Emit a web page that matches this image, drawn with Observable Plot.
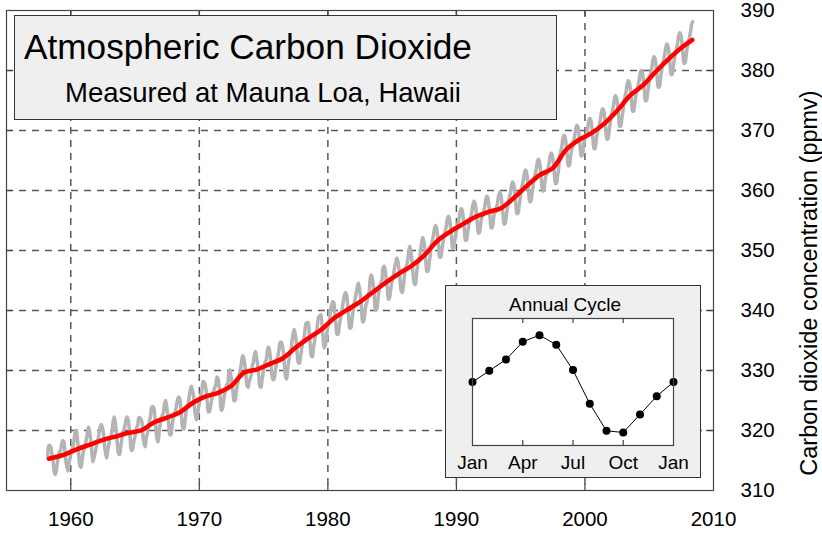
<!DOCTYPE html>
<html>
<head>
<meta charset="utf-8">
<script src="https://cdn.jsdelivr.net/npm/d3@7"></script>
<script src="https://cdn.jsdelivr.net/npm/@observablehq/plot@0.6"></script>
<style>
  body { margin: 0; background: #fff; }
  #wrap { position: relative; width: 822px; height: 536px; overflow: hidden;
          font-family: "Liberation Sans", Arial, sans-serif; color: #000; }
  #wrap svg { display: block; }
  #main { position: absolute; left: 0; top: 0; }
  #titlebox { position: absolute; left: 14px; top: 15px; width: 543px; height: 105px;
              box-sizing: border-box; background: #efefef; border: 1px solid #333; }
  .ttl { position: absolute; white-space: nowrap; line-height: 1; }
  #title { left: 24px; top: 28.5px; font-size: 35.2px; }
  #subtitle { left: 65px; top: 79px; font-size: 27.5px; }
  #insetbox { position: absolute; left: 445px; top: 285px; width: 254px; height: 191px;
              background: #efefef; border: 1px solid #333; }
  #ylabel { position: absolute; left: 810px; top: 283px; font-size: 23.5px; line-height: 1;
            white-space: nowrap; transform: translate(-50%, -50%) rotate(-90deg); }
</style>
</head>
<body>
<div id="wrap">
  <div id="main"></div>
  <div id="titlebox"></div>
  <div class="ttl" id="title">Atmospheric Carbon Dioxide</div>
  <div class="ttl" id="subtitle">Measured at Mauna Loa, Hawaii</div>
  <div id="insetbox"></div>
  <div id="ylabel">Carbon dioxide concentration (ppmv)</div>
</div>
<script>
// ---- Monthly CO2 (ppmv), grey curve ----
const co2Start = [1958 + 2 / 12, 1970, 1980, 1990, 2000]; // first month of each block
const co2_1958_1969 = [
  315.71, 317.45, 317.50, 317.10, 315.86, 314.93, 313.20, 312.66, 313.33, 314.67,
  315.62, 316.38, 316.71, 317.72, 318.29, 318.15, 316.54, 314.80, 313.84, 313.26, 314.80, 315.58,
  316.43, 316.97, 317.58, 319.02, 320.03, 319.59, 318.18, 315.91, 314.16, 313.83, 315.00, 316.19,
  316.93, 317.70, 318.54, 319.48, 320.58, 319.77, 318.57, 316.79, 314.80, 315.38, 316.10, 317.01,
  317.94, 318.56, 319.68, 320.63, 321.01, 320.55, 319.58, 317.40, 316.26, 315.42, 316.69, 317.69,
  318.74, 319.08, 319.86, 321.39, 322.25, 321.47, 319.74, 317.77, 316.21, 315.99, 317.12, 318.31,
  319.57, 320.07, 320.73, 321.77, 322.25, 321.89, 320.44, 318.70, 316.70, 316.79, 317.79, 318.71,
  319.44, 320.44, 320.89, 322.13, 322.16, 321.87, 321.39, 318.81, 317.81, 317.30, 318.87, 319.42,
  320.62, 321.59, 322.39, 323.87, 324.01, 323.75, 322.39, 320.37, 318.64, 318.10, 319.79, 321.08,
  322.07, 322.50, 323.04, 324.42, 325.00, 324.09, 322.55, 320.92, 319.31, 319.31, 320.72, 321.96,
  322.57, 323.15, 323.89, 325.02, 325.57, 325.36, 324.14, 322.03, 320.41, 320.25, 321.31, 322.84,
  324.00, 324.42, 325.64, 326.66, 327.38, 326.70, 325.89, 323.67, 322.38, 321.78, 322.85, 324.11
];
const co2_1970s = [
  325.03, 325.99, 326.87, 328.13, 328.07, 327.66, 326.35, 324.69, 323.10, 323.16, 323.98, 325.13,
  326.17, 326.68, 327.18, 327.78, 328.92, 328.57, 327.34, 325.46, 323.36, 323.57, 324.80, 326.01,
  326.77, 327.63, 327.75, 329.72, 330.07, 329.09, 328.05, 326.32, 324.93, 325.06, 326.50, 327.55,
  328.54, 329.56, 330.30, 331.50, 332.48, 332.07, 330.87, 329.31, 327.51, 327.18, 328.16, 328.64,
  329.35, 330.71, 331.48, 332.65, 333.16, 332.06, 330.99, 329.17, 327.41, 327.20, 328.33, 329.50,
  330.68, 331.41, 331.85, 333.29, 333.91, 333.40, 331.78, 329.88, 328.57, 328.46, 329.26, 330.62,
  331.60, 332.60, 333.57, 334.72, 334.68, 334.17, 332.96, 330.80, 328.98, 328.57, 330.20, 331.58,
  332.67, 333.17, 334.86, 336.07, 336.82, 336.12, 334.81, 332.56, 331.30, 331.22, 332.37, 333.49,
  334.71, 335.23, 336.54, 337.79, 337.95, 338.00, 336.37, 334.47, 332.46, 332.29, 333.76, 334.80,
  336.00, 336.63, 337.93, 338.95, 339.05, 339.27, 337.64, 335.68, 333.77, 334.09, 335.29, 336.76
];
const co2_1980s = [
  337.77, 338.26, 340.10, 340.88, 341.47, 341.31, 339.41, 337.74, 336.07, 336.07, 337.22, 338.38,
  339.32, 340.41, 341.69, 342.51, 343.02, 342.54, 340.88, 338.75, 337.05, 337.13, 338.45, 339.85,
  341.16, 341.96, 342.96, 343.91, 344.54, 343.68, 342.28, 340.23, 338.10, 338.26, 339.46, 340.89,
  341.41, 342.68, 343.04, 345.27, 345.92, 345.40, 344.16, 342.11, 340.11, 340.15, 341.38, 343.02,
  343.87, 344.59, 345.11, 347.07, 347.38, 346.78, 344.96, 343.73, 341.86, 342.10, 343.20, 344.63,
  345.20, 346.21, 347.33, 348.07, 348.77, 348.02, 346.70, 344.88, 343.26, 343.00, 344.10, 345.70,
  346.86, 347.57, 348.31, 349.98, 350.70, 349.77, 348.15, 346.14, 344.55, 344.30, 345.55, 347.22,
  348.28, 348.60, 350.08, 351.24, 352.17, 351.61, 350.08, 348.09, 346.53, 346.60, 347.93, 349.07,
  350.87, 351.67, 352.47, 353.67, 354.17, 353.77, 352.37, 350.47, 348.87, 348.97, 350.17, 351.37,
  352.42, 353.22, 354.02, 355.22, 355.72, 355.32, 353.92, 352.02, 350.42, 350.52, 351.72, 352.92
];
const co2_1990s = [
  353.69, 354.49, 355.29, 356.49, 356.99, 356.59, 355.19, 353.29, 351.69, 351.79, 352.99, 354.19,
  354.91, 355.71, 356.51, 357.71, 358.21, 357.81, 356.41, 354.51, 352.91, 353.01, 354.21, 355.41,
  355.75, 356.55, 357.35, 358.55, 359.05, 358.65, 357.25, 355.35, 353.75, 353.85, 355.05, 356.25,
  356.40, 357.20, 358.00, 359.20, 359.70, 359.30, 357.90, 356.00, 354.40, 354.50, 355.70, 356.90,
  358.13, 358.93, 359.73, 360.93, 361.43, 361.03, 359.63, 357.73, 356.13, 356.23, 357.43, 358.63,
  360.12, 360.92, 361.72, 362.92, 363.42, 363.02, 361.62, 359.72, 358.12, 358.22, 359.42, 360.62,
  361.91, 362.71, 363.51, 364.71, 365.21, 364.81, 363.41, 361.51, 359.91, 360.01, 361.21, 362.41,
  362.83, 363.63, 364.53, 365.73, 366.23, 365.93, 364.53, 362.73, 361.13, 361.23, 362.53, 363.73,
  365.80, 366.60, 367.50, 368.70, 369.20, 368.90, 367.50, 365.70, 364.10, 364.20, 365.50, 366.70,
  367.48, 368.28, 369.18, 370.38, 370.88, 370.58, 369.18, 367.38, 365.78, 365.88, 367.18, 368.38
];
const co2_2000s = [
  368.65, 369.45, 370.35, 371.55, 372.05, 371.75, 370.35, 368.55, 366.95, 367.05, 368.35, 369.55,
  370.24, 371.04, 371.94, 373.14, 373.64, 373.34, 371.94, 370.14, 368.54, 368.64, 369.94, 371.14,
  372.38, 373.18, 374.08, 375.28, 375.78, 375.48, 374.08, 372.28, 370.68, 370.78, 372.08, 373.28,
  374.90, 375.70, 376.60, 377.80, 378.30, 378.00, 376.60, 374.80, 373.20, 373.30, 374.60, 375.80,
  376.62, 377.42, 378.32, 379.52, 380.02, 379.72, 378.32, 376.52, 374.92, 375.02, 376.32, 377.52,
  378.90, 379.70, 380.60, 381.80, 382.30, 382.00, 380.60, 378.80, 377.20, 377.30, 378.60, 379.80,
  381.00, 381.80, 382.70, 383.90, 384.40, 384.10, 382.70, 380.90, 379.30, 379.40, 380.70, 381.90,
  382.89, 383.69, 384.59, 385.79, 386.29, 385.99, 384.59, 382.79, 381.19, 381.29, 382.59, 383.79,
  384.70, 385.50, 386.40, 387.60, 388.10
];

// ---- Smoothed trend (red curve) ----
const trendYears = [1958.3, 1959.5, 1960.5, 1961.5, 1962.5, 1963.5, 1964.5, 1965.5, 1966.5, 1967.5,
  1968.5, 1969.5, 1970.5, 1971.5, 1972.5, 1973.5, 1974.5, 1975.5, 1976.5, 1977.5,
  1978.5, 1979.5, 1980.5, 1981.5, 1982.5, 1983.5, 1984.5, 1985.5, 1986.5, 1987.5,
  1988.5, 1989.5, 1990.5, 1991.5, 1992.5, 1993.5, 1994.5, 1995.5, 1996.5, 1997.5,
  1998.5, 1999.5, 2000.5, 2001.5, 2002.5, 2003.5, 2004.5, 2005.5, 2006.5, 2007.5, 2008.35];
const trendValues = [315.30, 315.97, 316.91, 317.64, 318.45, 318.99, 319.62, 320.04, 321.38, 322.16,
  323.04, 324.62, 325.68, 326.32, 327.45, 329.68, 330.18, 331.11, 332.04, 333.83,
  335.40, 336.84, 338.75, 340.11, 341.45, 343.05, 344.65, 346.12, 347.42, 349.19,
  351.57, 353.12, 354.39, 355.61, 356.45, 357.10, 358.83, 360.82, 362.61, 363.73,
  366.70, 368.38, 369.55, 371.14, 373.28, 375.80, 377.52, 379.80, 381.90, 383.79, 385.10];

// ---- Axes ----
const xTicks = [1960, 1970, 1980, 1990, 2000, 2010];
const xGrid = [1960, 1970, 1980, 1990, 2000];
const yTicks = [310, 320, 330, 340, 350, 360, 370, 380, 390];
const yGrid = [320, 330, 340, 350, 360, 370, 380];

// ---- Inset: mean annual cycle (ppmv deviation) ----
const cycleMonths = [0, 1, 2, 3, 4, 5, 6, 7, 8, 9, 10, 11, 12];
const cycleValues = [0.00, 0.68, 1.36, 2.44, 2.84, 2.26, 0.72, -1.32, -2.96, -3.06, -1.97, -0.86, 0.00];
const cycleTickMonths = [0, 3, 6, 9, 12];
const cycleTickLabels = ["Jan", "Apr", "Jul", "Oct", "Jan"];

// build tables
const blocks = [co2_1958_1969, co2_1970s, co2_1980s, co2_1990s, co2_2000s];
const monthly = [];
blocks.forEach((arr, b) => arr.forEach((v, i) => monthly.push({t: co2Start[b] + (i + 0.5) / 12, v})));
const trend = trendYears.map((t, i) => ({t, v: trendValues[i]}));
const cycle = cycleMonths.map((m, i) => ({m, v: cycleValues[i]}));

const FONT = '"Liberation Sans", Arial, sans-serif';
const gridStyle = {stroke: "#5a5a5a", strokeWidth: 1.5, strokeDasharray: "7,6"};
const tickStyle = {stroke: "#444", strokeWidth: 1.2};

const main = Plot.plot({
  width: 822, height: 536,
  marginTop: 10, marginRight: 109, marginBottom: 46, marginLeft: 6,
  style: {fontFamily: FONT, fontSize: "20.5px", background: "white", color: "#000"},
  x: {domain: [1955, 2010], ticks: xTicks, tickFormat: d => String(d), tickSize: 0, tickPadding: 21, label: null},
  y: {domain: [310, 390], axis: "right", ticks: yTicks, tickSize: 0, tickPadding: 27, label: null},
  marks: [
    Plot.ruleX(xGrid, {x: d => d, ...gridStyle}),
    Plot.ruleY(yGrid, {y: d => d, ...gridStyle}),
    Plot.tickX(xGrid, {x: d => d, insetBottom: 474, ...tickStyle}),
    Plot.tickX(xGrid, {x: d => d, insetTop: 474, ...tickStyle}),
    Plot.tickY(yGrid, {y: d => d, insetRight: 700, ...tickStyle}),
    Plot.tickY(yGrid, {y: d => d, insetLeft: 700, ...tickStyle}),
    Plot.line(monthly, {x: "t", y: "v", stroke: "#b4b4b4", strokeWidth: 3.5, curve: "catmull-rom"}),
    Plot.line(trend, {x: "t", y: "v", stroke: "#ff0000", strokeWidth: 4.5, curve: "catmull-rom"}),
    Plot.frame({stroke: "#444", strokeWidth: 1.2})
  ]
});
document.getElementById("main").appendChild(main);

const inset = Plot.plot({
  width: 254, height: 191,
  marginTop: 32, marginRight: 27, marginBottom: 32, marginLeft: 26,
  style: {fontFamily: FONT, fontSize: "19px", background: "transparent", color: "#000"},
  x: {domain: [0, 12], ticks: cycleTickMonths,
      tickFormat: d => cycleTickLabels[cycleTickMonths.indexOf(d)], tickSize: 0, tickPadding: 10, label: null},
  y: {domain: [-3.85, 3.85], axis: null},
  marks: [
    Plot.frame({fill: "white"}),
    Plot.tickX([3, 6, 9], {x: d => d, insetBottom: 122, ...tickStyle}),
    Plot.tickX([3, 6, 9], {x: d => d, insetTop: 122, ...tickStyle}),
    Plot.line(cycle, {x: "m", y: "v", stroke: "#000", strokeWidth: 1}),
    Plot.dot(cycle, {x: "m", y: "v", r: 4, fill: "#000", stroke: "none"}),
    Plot.frame({stroke: "#444", strokeWidth: 1.2}),
    Plot.text(["Annual Cycle"], {text: d => d, frameAnchor: "top", lineAnchor: "middle", dx: -8, dy: -14, fontSize: 19})
  ]
});
document.getElementById("insetbox").appendChild(inset);
</script>
</body>
</html>
